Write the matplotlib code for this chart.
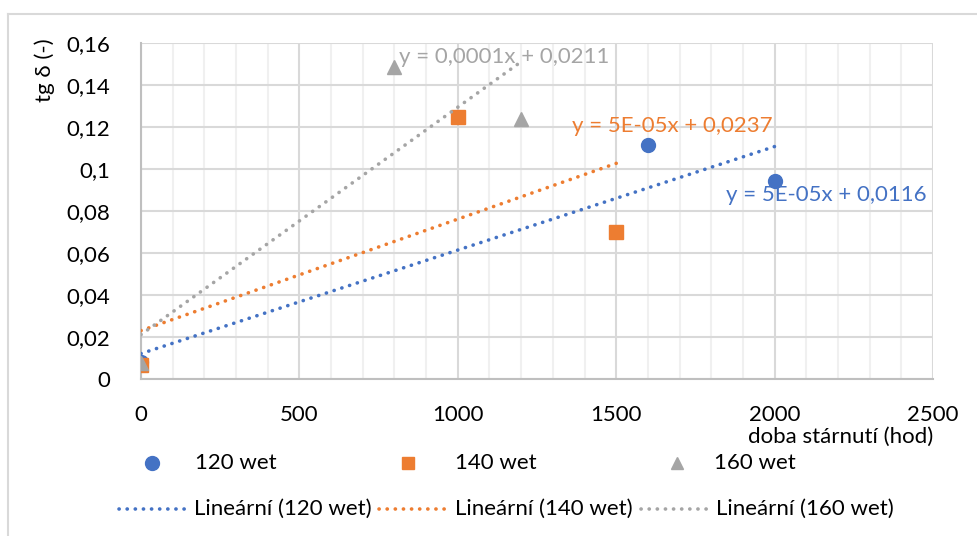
import numpy as np
import matplotlib.pyplot as plt
from matplotlib.lines import Line2D

plt.rcParams['font.family'] = ['Lato', 'DejaVu Sans']

# data
x120 = [0, 1600, 2000]
y120 = [0.008, 0.1114, 0.0943]
x140 = [0, 1000, 1500]
y140 = [0.0068, 0.1248, 0.0702]
x160 = [0, 800, 1200]
y160 = [0.0075, 0.1486, 0.1238]

names = ['120 wet', '140 wet', '160 wet']
colors = ['#4472C4', '#ED7D31', '#A5A5A5']
markers = ['o', 's', '^']
eqTexts = ['y = 5E-05x + 0,0116', 'y = 5E-05x + 0,0237', 'y = 0,0001x + 0,0211']
eqPos = [(1845, 0.0875), (1360, 0.1205), (815, 0.1535)]

xTicks = [0, 500, 1000, 1500, 2000, 2500]
yTicks = [0, 0.02, 0.04, 0.06, 0.08, 0.1, 0.12, 0.14, 0.16]
yTickLabels = ['0', '0,02', '0,04', '0,06', '0,08', '0,1', '0,12', '0,14', '0,16']

FS = 16

fig = plt.figure(figsize=(9.77, 5.36), dpi=100)
ax = fig.add_axes([0.1443, 0.2929, 0.8107, 0.6271])

# figure frame (top and left edges visible)
fig.add_artist(Line2D([8/977, 8/977], [0, 1 - 14/536], transform=fig.transFigure, color='#D9D9D9', lw=1.5))
fig.add_artist(Line2D([8/977, 1], [1 - 14/536, 1 - 14/536], transform=fig.transFigure, color='#D9D9D9', lw=1.5))

dotted = (0, (0.05, 2.2))
series = [(x120, y120), (x140, y140), (x160, y160)]
for i, (xs, ys) in enumerate(series):
    ax.plot(xs, ys, linestyle='none', marker=markers[i], color=colors[i], markersize=10, zorder=3)
for i, (xs, ys) in enumerate(series):
    k, q = np.polyfit(xs, ys, 1)
    xl = np.array([min(xs), max(xs)])
    ax.plot(xl, k * xl + q, linestyle=dotted, dash_capstyle='round', color=colors[i], lw=2.6, zorder=4)
    ax.text(eqPos[i][0], eqPos[i][1], eqTexts[i], color=colors[i], fontsize=FS, ha='left', va='center', zorder=5)

ax.set_xlim(0, 2500)
ax.set_ylim(0, 0.16)
ax.set_xticks(xTicks)
ax.set_xticks(np.arange(0, 2501, 100), minor=True)
ax.set_yticks(yTicks)
ax.set_yticklabels(yTickLabels)
ax.tick_params(axis='both', which='both', length=0, labelsize=FS, colors='black')
ax.tick_params(axis='y', pad=22)
ax.tick_params(axis='x', pad=19)
ax.grid(True, which='major', color='#D9D9D9', lw=1.5)
ax.grid(True, which='minor', axis='x', color='#F0F0F0', lw=1.5)
ax.set_axisbelow(True)
for s in ['top', 'right']:
    ax.spines[s].set_visible(False)
for s in ['left', 'bottom']:
    ax.spines[s].set_color('#BFBFBF')
    ax.spines[s].set_linewidth(1.5)

ax.set_xlabel('doba stárnutí (hod)', fontsize=FS, loc='right', labelpad=1)
fig.text(45/977, 1 - 38/536, 'tg δ (-)', rotation=90, fontsize=FS, ha='center', va='top')

# legend, row 1: markers
mx = [152, 408, 677]
tx = [195, 455, 714]
for i in range(3):
    fig.add_artist(Line2D([mx[i]/977], [1 - 463/536], transform=fig.transFigure, marker=markers[i],
                          color=colors[i], markersize=10 if i == 0 else 9, linestyle='none'))
    fig.text(tx[i]/977, 1 - 463/536, names[i], fontsize=FS, ha='left', va='center')

# legend, row 2: trendlines
lx = [(119, 186), (379, 447), (641, 708)]
for i in range(3):
    fig.add_artist(Line2D([lx[i][0]/977, lx[i][1]/977], [1 - 509/536, 1 - 509/536], transform=fig.transFigure,
                          linestyle=dotted, dash_capstyle='round', color=colors[i], lw=2.6))
    fig.text((lx[i][1] + 8)/977, 1 - 509/536, 'Lineární (' + names[i] + ')', fontsize=FS, ha='left', va='center')

fig.savefig('out.png', dpi=100)
